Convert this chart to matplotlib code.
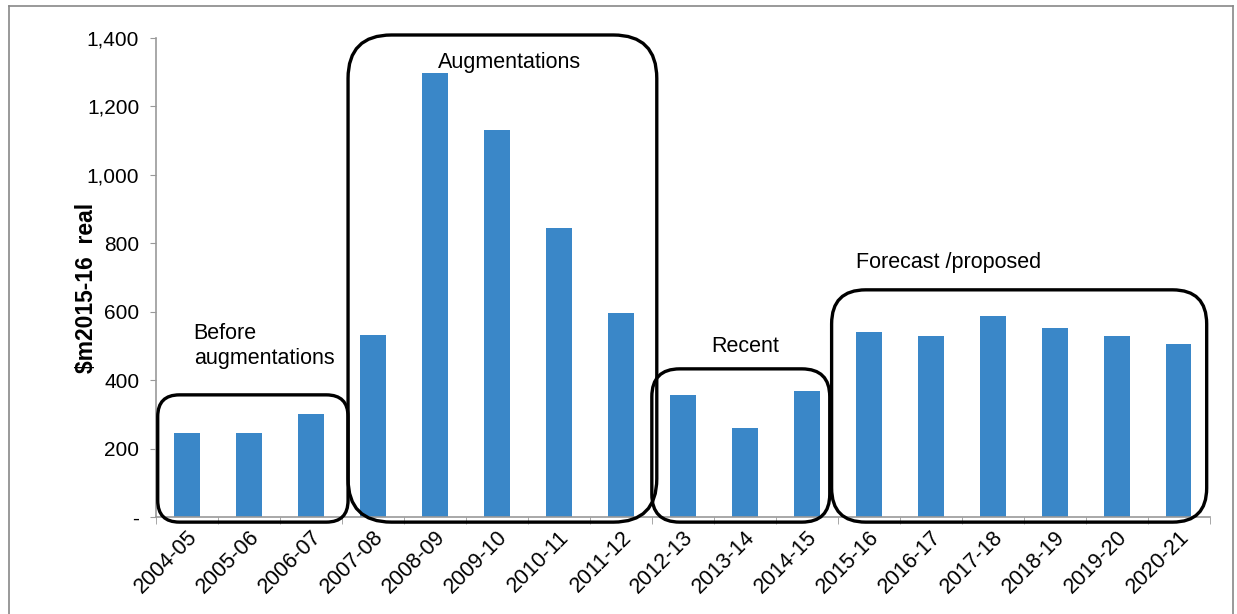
import numpy as np
import matplotlib
matplotlib.use("Agg")
import matplotlib.pyplot as plt
from matplotlib.patches import FancyBboxPatch
from matplotlib.lines import Line2D

# data
years = ["2004-05", "2005-06", "2006-07", "2007-08", "2008-09", "2009-10",
         "2010-11", "2011-12", "2012-13", "2013-14", "2014-15", "2015-16",
         "2016-17", "2017-18", "2018-19", "2019-20", "2020-21"]
capex = [245, 245, 301, 532, 1298, 1131, 845, 596, 357, 260, 368,
         541, 529, 588, 552, 529, 506]
ytick_vals = [0, 200, 400, 600, 800, 1000, 1200, 1400]
ytick_labels = ["-", "200", "400", "600", "800", "1,000", "1,200", "1,400"]

# period boxes: (x0, x1, y0, y1, corner radius in category widths)
boxes = [(-0.47, 2.6, -15, 357, 0.35),
         (2.6, 7.58, -15, 1409, 0.7),
         (7.5, 10.37, -15, 433, 0.45),
         (10.4, 16.45, -15, 664, 0.55)]
# period labels: (x, y, text, ha)
labels = [(0.11, 500, "Before\naugmentations", "left"),
          (5.2, 1330, "Augmentations", "center"),
          (9.0, 497, "Recent", "center"),
          (10.8, 745, "Forecast /proposed", "left")]

plt.rcParams["font.family"] = ["Liberation Sans", "DejaVu Sans"]

fig = plt.figure(figsize=(12.37, 6.14), dpi=100)
ax = fig.add_axes([0.126, 0.158, 0.852, 0.780])

x = np.arange(len(years))
ax.bar(x, capex, width=0.41, color="#3a87c8", zorder=2)

ax.set_xlim(-0.5, len(years) - 0.5)
ax.set_ylim(0, 1400)
ax.set_yticks(ytick_vals)
ax.set_yticklabels(ytick_labels, fontsize=15)
ax.set_xticks(x)
ax.set_xticklabels(years, rotation=45, ha="right", rotation_mode="anchor", fontsize=15.5)
ax.tick_params(axis="x", length=0, pad=7)
ax.set_xticks(np.arange(-0.5, len(years)), minor=True)
ax.tick_params(axis="x", which="minor", length=5, color="#999999")
ax.tick_params(axis="y", length=4, color="#999999", pad=8)

for s in ["top", "right"]:
    ax.spines[s].set_visible(False)
ax.spines["left"].set_color("#999999")
ax.spines["bottom"].set_color("#999999")
ax.spines["left"].set_linewidth(1.2)
ax.spines["bottom"].set_linewidth(1.2)

ax.set_ylabel("$m2015-16  real", fontsize=16.5, fontweight="bold")
ax.yaxis.set_label_coords(-0.055, 0.478)

# aspect ratio so rounded corners look round
fig.canvas.draw()
p0 = ax.transData.transform((0, 0))
p1 = ax.transData.transform((1, 1))
aspect = (p1[0] - p0[0]) / (p1[1] - p0[1])

for x0, x1, y0, y1, r in boxes:
    box = FancyBboxPatch((x0, y0), x1 - x0, y1 - y0,
                         boxstyle="round,pad=0,rounding_size=%g" % r,
                         mutation_aspect=aspect, fill=False,
                         edgecolor="black", linewidth=2.4,
                         clip_on=False, zorder=3)
    ax.add_patch(box)

for lx, ly, txt, ha in labels:
    ax.text(lx, ly, txt, ha=ha, va="center", fontsize=15.5, zorder=4)

# grey frame around the figure
for xs, ys in [([0.007, 0.007], [0.0, 0.99]), ([0.007, 0.997], [0.99, 0.99]),
               ([0.997, 0.997], [0.0, 0.99])]:
    fig.add_artist(Line2D(xs, ys, color="#888888", linewidth=1.2))

fig.savefig("out.png", dpi=100)
